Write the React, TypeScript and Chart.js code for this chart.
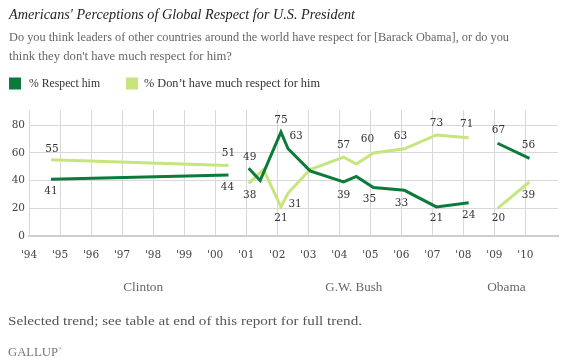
import React, { useEffect, useRef } from "react";
import { Chart, registerables } from "chart.js";
Chart.register(...registerables);

// ---- data (decimal year of survey, percentage) ----
const respectDates = [1994.71, 2000.43, 2001.08, 2001.45, 2002.12, 2002.35, 2003.06, 2004.14, 2004.55, 2005.1, 2006.1, 2007.13, 2008.17, 2009.1, 2010.13];
const respectValues = [41, 44, 49, 40, 75, 63, 47, 39, 43, 35, 33, 21, 24, 67, 56];
const noRespectDates = [1994.71, 2000.43, 2001.08, 2001.56, 2002.12, 2002.35, 2003.06, 2004.14, 2004.55, 2005.1, 2006.1, 2007.13, 2008.17, 2009.1, 2010.13];
const noRespectValues = [55, 51, 38, 48, 21, 31, 48, 57, 52, 60, 63, 73, 71, 20, 39];
const presidentOfPoint = ["Clinton", "Clinton", "Bush", "Bush", "Bush", "Bush", "Bush", "Bush", "Bush", "Bush", "Bush", "Bush", "Bush", "Obama", "Obama"];
const labelledPoints = [true, true, true, false, true, true, false, true, false, true, true, true, true, true, true];

const yearTicks = [1994, 1995, 1996, 1997, 1998, 1999, 2000, 2001, 2002, 2003, 2004, 2005, 2006, 2007, 2008, 2009, 2010];
const valueTicks = [0, 20, 40, 60, 80];
const presidentNames = ["Clinton", "G.W. Bush", "Obama"];
const presidentLabelYears = [1997.68, 2004.47, 2009.39];

const seriesNames = ["% Respect him", "% Don\u2019t have much respect for him"];

// ---- styles ----
const DARK = "#0b7a3a";
const LIGHT = "#c6e57c";
const TEXT_SERIF = "'Liberation Serif', 'DejaVu Serif', serif";
const NUM_SERIF = "'DejaVu Serif', 'Liberation Serif', serif";
// label offsets (dx, dy) in px from each point
const respectLabelOffsets: [number, number][] = [[0, 12], [-1, 12], [1, -11], [0, 0], [0, -11.5], [8, -13], [0, 0], [0, 13], [0, 0], [-4, 12], [-3, 12.5], [0, 11], [0, 12], [1, -12.5], [-1, -13]];
const noRespectLabelOffsets: [number, number][] = [[1, -10.5], [0, -12.5], [1, 12], [0, 0], [0, 11], [7, 11], [0, 0], [0, -12], [0, 0], [-6, -14], [-4, -13], [0, -12], [-2, -13], [1, 10], [-1, 13]];

function buildSeries(dates: number[], values: number[]) {
  const out: { x: number; y: number | null }[] = [];
  for (let i = 0; i < dates.length; i++) {
    if (i > 0 && presidentOfPoint[i] !== presidentOfPoint[i - 1]) {
      out.push({ x: (dates[i] + dates[i - 1]) / 2, y: null });
    }
    out.push({ x: dates[i], y: values[i] });
  }
  return out;
}

// draw text at a given font size, stretched horizontally to span a given width
function fitText(ctx: CanvasRenderingContext2D, text: string, x: number, y: number, width: number, size: number, style: string, color: string, align: "left" | "center" = "left") {
  ctx.save();
  ctx.font = `${style} ${size}px ${TEXT_SERIF}`;
  const w = ctx.measureText(text).width;
  const sx = width / w;
  ctx.fillStyle = color;
  ctx.textAlign = "left";
  ctx.textBaseline = "alphabetic";
  const left = align === "center" ? x - width / 2 : x;
  ctx.translate(left, y);
  ctx.scale(sx, 1);
  ctx.fillText(text, 0, 0);
  ctx.restore();
}

const decorPlugin = {
  id: "decor",
  afterDatasetsDraw(chart: any) {
    const ctx: CanvasRenderingContext2D = chart.ctx;
    const xs = chart.scales.x;
    const ys = chart.scales.y;
    ctx.save();
    ctx.font = `10.5px ${NUM_SERIF}`;
    ctx.fillStyle = "#333";
    ctx.textAlign = "center";
    ctx.textBaseline = "middle";
    const drawLabels = (dates: number[], values: number[], offs: [number, number][]) => {
      for (let i = 0; i < dates.length; i++) {
        if (!labelledPoints[i]) continue;
        const px = xs.getPixelForValue(dates[i]) + offs[i][0];
        const py = ys.getPixelForValue(values[i]) + offs[i][1];
        ctx.fillText(String(values[i]), px, py);
      }
    };
    drawLabels(respectDates, respectValues, respectLabelOffsets);
    drawLabels(noRespectDates, noRespectValues, noRespectLabelOffsets);
    ctx.restore();
  },
  afterDraw(chart: any) {
    const ctx: CanvasRenderingContext2D = chart.ctx;
    const xs = chart.scales.x;
    ctx.save();
    // title & question
    fitText(ctx, "Americans' Perceptions of Global Respect for U.S. President", 9, 18.5, 346, 14, "italic", "#222");
    fitText(ctx, "Do you think leaders of other countries around the world have respect for [Barack Obama], or do you", 9, 40.5, 500, 12.5, "normal", "#666");
    fitText(ctx, "think they don't have much respect for him?", 9, 59.5, 223, 12.5, "normal", "#666");
    // legend
    ctx.fillStyle = DARK;
    ctx.fillRect(9, 77.5, 12, 12);
    ctx.fillStyle = LIGHT;
    ctx.fillRect(126, 77.5, 12, 12);
    fitText(ctx, seriesNames[0], 29, 86.5, 71, 12.5, "normal", "#333");
    fitText(ctx, seriesNames[1], 144, 86.5, 176, 12.5, "normal", "#333");
    // president labels
    const presWidths = [40, 57, 38.5];
    presidentNames.forEach((n, i) => {
      fitText(ctx, n, xs.getPixelForValue(presidentLabelYears[i]), 290.5, presWidths[i], 12.5, "normal", "#666", "center");
    });
    // footnote & logo
    fitText(ctx, "Selected trend; see table at end of this report for full trend.", 8, 325, 354, 12.5, "normal", "#555");
    fitText(ctx, "GALLUP", 8, 356, 50, 11.5, "normal", "#777");
    ctx.font = `5px ${TEXT_SERIF}`;
    ctx.fillStyle = "#777";
    ctx.textAlign = "left";
    ctx.fillText("\u00AE", 58.5, 350);
    ctx.restore();
  },
};

export default function App() {
  const ref = useRef<HTMLCanvasElement | null>(null);
  useEffect(() => {
    if (!ref.current) return;
    const chart = new Chart(ref.current, {
      type: "line",
      data: {
        datasets: [
          {
            label: seriesNames[0],
            data: buildSeries(respectDates, respectValues),
            borderColor: DARK,
            backgroundColor: DARK,
            borderWidth: 3,
            pointRadius: 0,
            tension: 0,
            spanGaps: false,
          },
          {
            label: seriesNames[1],
            data: buildSeries(noRespectDates, noRespectValues),
            borderColor: LIGHT,
            backgroundColor: LIGHT,
            borderWidth: 3,
            pointRadius: 0,
            tension: 0,
            spanGaps: false,
          },
        ],
      },
      options: {
        responsive: false,
        animation: false,
        devicePixelRatio: 1,
        layout: { padding: { left: 0, top: 110, right: 7, bottom: 0 } },
        plugins: { legend: { display: false }, tooltip: { enabled: false }, title: { display: false } },
        scales: {
          x: {
            type: "linear",
            min: 1994,
            max: 2011.05,
            afterBuildTicks: (s: any) => {
              s.ticks = yearTicks.map((v) => ({ value: v }));
            },
            afterFit: (s: any) => {
              s.height = 127;
            },
            grid: { color: "#d8d8d8", lineWidth: 1, drawTicks: false },
            border: { color: "#cfcfcf", width: 2 },
            ticks: {
              autoSkip: false,
              maxRotation: 0,
              padding: 13,
              color: "#444",
              font: { family: NUM_SERIF, size: 10.5 },
              callback: (v: any) => "'" + String(v).slice(2),
            },
          },
          y: {
            min: 0,
            max: 91,
            afterBuildTicks: (s: any) => {
              s.ticks = valueTicks.map((v) => ({ value: v }));
            },
            afterFit: (s: any) => {
              s.width = 29;
            },
            grid: { color: "#d8d8d8", lineWidth: 1, drawTicks: false },
            border: { color: "#d8d8d8", width: 1 },
            ticks: {
              padding: 4,
              color: "#444",
              font: { family: NUM_SERIF, size: 10.5 },
            },
          },
        },
      },
      plugins: [decorPlugin],
    } as any);
    return () => chart.destroy();
  }, []);
  return (
    <div style={{ position: "absolute", left: 0, top: 0, width: 565, height: 363, background: "#fff" }}>
      <canvas ref={ref} width={565} height={363} style={{ display: "block" }} />
    </div>
  );
}
